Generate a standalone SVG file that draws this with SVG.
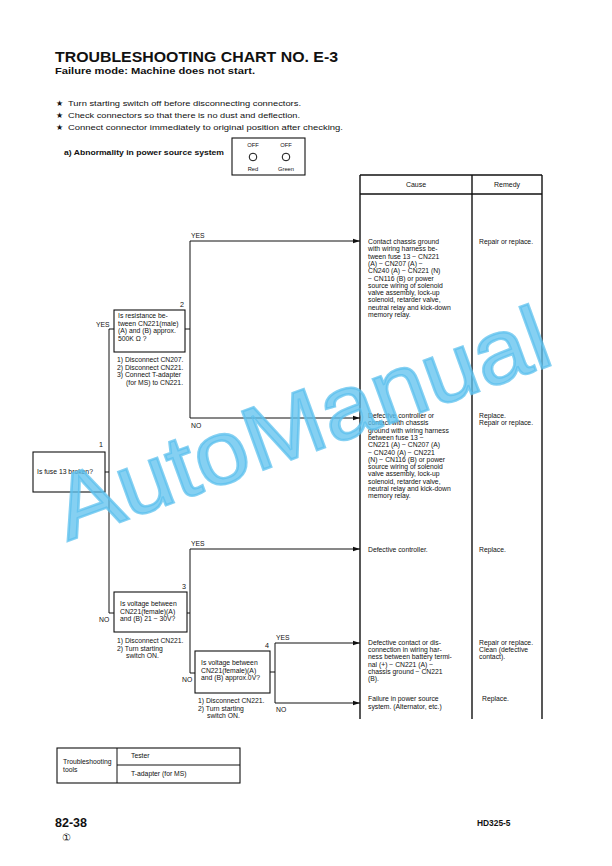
<svg xmlns="http://www.w3.org/2000/svg" width="612" height="866" viewBox="0 0 612 866">
<style>
text{font-family:"Liberation Sans",Arial,sans-serif;fill:#111}
.s{font-size:6.8px}
.h{font-size:7px}
.b{font-weight:bold}
.ln{stroke:#111;stroke-width:1;fill:none}
.tb{stroke:#111;stroke-width:1.4;fill:none}
.box{stroke:#111;stroke-width:1.1;fill:#fff}
.wm{font-family:"Liberation Sans",Arial,sans-serif;font-size:90px;fill:#5cc0ee;fill-opacity:0.75;stroke:#5cc0ee;stroke-opacity:0.75;stroke-width:2.5}
</style>
<defs>
<marker id="arr" markerWidth="8" markerHeight="6" refX="7" refY="3" orient="auto" markerUnits="userSpaceOnUse">
<path d="M0,0.8 L7,3 L0,5.2 Z" fill="#111"/>
</marker>
</defs>
<rect width="612" height="866" fill="#fff"/>

<g id="header">
<text x="55" y="62" class="b" font-size="15.5" textLength="283" lengthAdjust="spacingAndGlyphs">TROUBLESHOOTING  CHART  NO. E-3</text>
<text x="55" y="74" class="b" font-size="8.6" textLength="200" lengthAdjust="spacingAndGlyphs">Failure mode:  Machine does not start.</text>
<text x="56" y="106" font-size="7.8">★</text>
<text x="68" y="106" font-size="8" textLength="233" lengthAdjust="spacingAndGlyphs">Turn starting switch off before disconnecting connectors.</text>
<text x="56" y="118" font-size="7.8">★</text>
<text x="68" y="118" font-size="8" textLength="232" lengthAdjust="spacingAndGlyphs">Check connectors so that there is no dust and deflection.</text>
<text x="56" y="130" font-size="7.8">★</text>
<text x="68" y="130" font-size="8" textLength="275" lengthAdjust="spacingAndGlyphs">Connect connector immediately to original position after checking.</text>
<text x="64" y="155" class="b" font-size="7.6" textLength="160" lengthAdjust="spacingAndGlyphs">a)   Abnormality in power source system</text>
</g>

<g id="lamps">
<rect x="232" y="138" width="73" height="37" class="box"/>
<text x="253" y="147" text-anchor="middle" font-size="5.8">OFF</text>
<text x="286" y="147" text-anchor="middle" font-size="5.8">OFF</text>
<circle cx="253" cy="157" r="3.8" class="ln" stroke-width="0.8"/>
<circle cx="286" cy="157" r="3.8" class="ln" stroke-width="0.8"/>
<text x="253" y="171" text-anchor="middle" font-size="5.8">Red</text>
<text x="286" y="171" text-anchor="middle" font-size="5.8">Green</text>
</g>

<g id="table">
<line x1="360" y1="175" x2="542" y2="175" class="tb"/>
<line x1="360" y1="194" x2="542" y2="194" class="tb"/>
<line x1="360" y1="175" x2="360" y2="719" class="tb"/>
<line x1="472" y1="175" x2="472" y2="719" class="tb"/>
<line x1="542" y1="175" x2="542" y2="719" class="tb"/>
<text x="416" y="187" class="h" text-anchor="middle">Cause</text>
<text x="507" y="187" class="h" text-anchor="middle">Remedy</text>
</g>

<g id="connectors">
<polyline points="105,472 109,472" class="ln"/>
<polyline points="114,329 109,329 109,613 114,613" class="ln"/>
<text x="96" y="327" class="s">YES</text>
<text x="99" y="622" class="s">NO</text>
<line x1="185" y1="329" x2="190" y2="329" class="ln"/>
<polyline points="190,418 190,241 360,241" class="ln" marker-end="url(#arr)"/>
<line x1="190" y1="418" x2="360" y2="418" class="ln" marker-end="url(#arr)"/>
<text x="191" y="238" class="s">YES</text>
<text x="191" y="428" class="s">NO</text>
<line x1="187" y1="613" x2="190" y2="613" class="ln"/>
<polyline points="195,673 190,673 190,549 360,549" class="ln" marker-end="url(#arr)"/>
<text x="191" y="546" class="s">YES</text>
<text x="182" y="682" class="s">NO</text>
<line x1="270" y1="672" x2="275" y2="672" class="ln"/>
<polyline points="275,703 275,643 360,643" class="ln" marker-end="url(#arr)"/>
<line x1="275" y1="703" x2="360" y2="703" class="ln" marker-end="url(#arr)"/>
<text x="276" y="640" class="s">YES</text>
<text x="276" y="712" class="s">NO</text>
</g>

<g id="node1">
<rect x="33" y="452" width="72" height="40" class="box"/>
<text x="99" y="447" font-size="7.2">1</text>
<text x="37" y="474" class="s">Is fuse 13 broken?</text>
</g>

<g id="node2">
<rect x="114" y="310" width="71" height="42" class="box"/>
<text x="180" y="307" font-size="7.2">2</text>
<text class="s"><tspan x="118" y="318">Is resistance be-</tspan><tspan x="118" y="325.5">tween CN221(male)</tspan><tspan x="118" y="333">(A) and (B) approx.</tspan><tspan x="118" y="340.5">500K Ω ?</tspan></text>
<text class="s"><tspan x="117" y="362">1) Disconnect CN207.</tspan><tspan x="117" y="369.5">2) Disconnect CN221.</tspan><tspan x="117" y="377">3) Connect T-adapter</tspan><tspan x="126" y="384.5">(for MS) to CN221.</tspan></text>
</g>

<g id="node3">
<rect x="114" y="592" width="73" height="40" class="box"/>
<text x="182" y="589" font-size="7.2">3</text>
<text class="s"><tspan x="120" y="606">Is voltage between</tspan><tspan x="120" y="613.5">CN221(female)(A)</tspan><tspan x="120" y="621">and (B) 21 − 30V?</tspan></text>
<text class="s"><tspan x="117" y="643">1) Disconnect CN221.</tspan><tspan x="117" y="650.5">2) Turn starting</tspan><tspan x="126" y="658">switch ON.</tspan></text>
</g>

<g id="node4">
<rect x="195" y="651" width="75" height="42" class="box"/>
<text x="265" y="648" font-size="7.2">4</text>
<text class="s"><tspan x="201" y="665">Is voltage between</tspan><tspan x="201" y="672.5">CN221(female)(A)</tspan><tspan x="201" y="680">and (B) approx.0V?</tspan></text>
<text class="s"><tspan x="198" y="703">1) Disconnect CN221.</tspan><tspan x="198" y="710.5">2) Turn starting</tspan><tspan x="207" y="718">switch ON.</tspan></text>
</g>

<g id="cause1">
<text class="s"><tspan x="368" y="244">Contact chassis ground</tspan><tspan x="368" y="251.3">with wiring harness be-</tspan><tspan x="368" y="258.6">tween fuse 13 − CN221</tspan><tspan x="368" y="265.9">(A) − CN207 (A) −</tspan><tspan x="368" y="273.2">CN240 (A) − CN221 (N)</tspan><tspan x="368" y="280.5">− CN116 (B) or power</tspan><tspan x="368" y="287.8">source wiring of solenoid</tspan><tspan x="368" y="295.1">valve assembly, lock-up</tspan><tspan x="368" y="302.4">solenoid, retarder valve,</tspan><tspan x="368" y="309.7">neutral relay and kick-down</tspan><tspan x="368" y="317">memory relay.</tspan></text>
<text x="479" y="244" class="s">Repair or replace.</text>
</g>

<g id="cause2">
<text class="s"><tspan x="368" y="418">Defective controller or</tspan><tspan x="368" y="425.3">contact with chassis</tspan><tspan x="368" y="432.6">ground with wiring harness</tspan><tspan x="368" y="439.9">between fuse 13 −</tspan><tspan x="368" y="447.2">CN221 (A) − CN207 (A)</tspan><tspan x="368" y="454.5">− CN240 (A) − CN221</tspan><tspan x="368" y="461.8">(N) − CN116 (B) or power</tspan><tspan x="368" y="469.1">source wiring of solenoid</tspan><tspan x="368" y="476.4">valve assembly, lock-up</tspan><tspan x="368" y="483.7">solenoid, retarder valve,</tspan><tspan x="368" y="491">neutral relay and kick-down</tspan><tspan x="368" y="498.3">memory relay.</tspan></text>
<text class="s"><tspan x="479" y="418">Replace.</tspan><tspan x="479" y="425.3">Repair or replace.</tspan></text>
</g>

<g id="cause3">
<text x="368" y="552" class="s">Defective controller.</text>
<text x="479" y="552" class="s">Replace.</text>
</g>

<g id="cause4">
<text class="s"><tspan x="368" y="645">Defective contact or dis-</tspan><tspan x="368" y="652.2">connection in wiring har-</tspan><tspan x="368" y="659.4">ness between battery termi-</tspan><tspan x="368" y="666.6">nal (+) − CN221 (A) −</tspan><tspan x="368" y="673.8">chassis ground − CN221</tspan><tspan x="368" y="681">(B).</tspan></text>
<text class="s"><tspan x="479" y="645">Repair or replace.</tspan><tspan x="479" y="652.2">Clean (defective</tspan><tspan x="479" y="659.4">contact).</tspan></text>
</g>

<g id="cause5">
<text class="s"><tspan x="368" y="701">Failure in power source</tspan><tspan x="368" y="708.5">system.  (Alternator, etc.)</tspan></text>
<text x="482" y="701" class="s">Replace.</text>
</g>

<g id="tools">
<rect x="57" y="748" width="183" height="35" class="box" stroke-width="1.2"/>
<line x1="117" y1="748" x2="117" y2="783" class="ln"/>
<line x1="117" y1="765" x2="240" y2="765" class="ln"/>
<text class="s"><tspan x="63" y="764">Troubleshooting</tspan><tspan x="63" y="772">tools</tspan></text>
<text x="131" y="758" class="s">Tester</text>
<text x="131" y="776" class="s">T-adapter (for MS)</text>
</g>

<g id="footer">
<text x="55" y="827" class="b" font-size="12.5">82-38</text>
<text x="62" y="841" font-size="10">①</text>
<text x="477" y="826" class="b" font-size="8.4">HD325-5</text>
</g>

<text class="wm" x="312" y="452" text-anchor="middle" transform="rotate(-20 312 452)" textLength="520" lengthAdjust="spacingAndGlyphs">AutoManual</text>
</svg>
